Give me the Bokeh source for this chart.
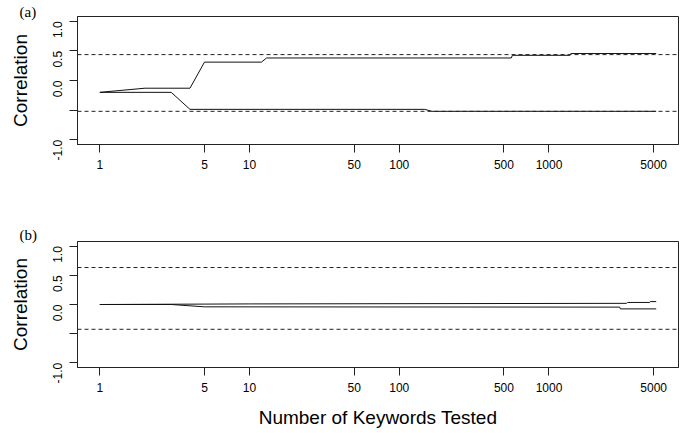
import math
from bokeh.plotting import figure
from bokeh.models import Span, Title, FixedTicker, CustomJSTickFormatter, Range1d, NumeralTickFormatter
from bokeh.layouts import column
from bokeh.embed import file_html
from bokeh.resources import INLINE

# ---- data ----
x_ticks = [1, 5, 10, 50, 100, 500, 1000, 5000]
y_ticks = [-1.0, -0.5, 0.0, 0.5, 1.0]

# panel (a)
a_upper_x = [1, 2, 4, 5, 12, 13, 560, 570, 1380, 1400, 5200]
a_upper_y = [-0.2, -0.13, -0.13, 0.31, 0.31, 0.38, 0.38, 0.425, 0.425, 0.455, 0.455]
a_lower_x = [1, 3, 4, 148, 165, 5200]
a_lower_y = [-0.2, -0.2, -0.487, -0.487, -0.52, -0.52]
a_thresh = [0.437, -0.52]

# panel (b)
b_upper_x = [1, 10, 3300, 3350, 4700, 4750, 5200]
b_upper_y = [0.0, 0.01, 0.02, 0.035, 0.035, 0.05, 0.05]
b_lower_x = [1, 3, 5, 2970, 3000, 5200]
b_lower_y = [0.0, 0.0, -0.04, -0.045, -0.075, -0.075]
b_thresh = [0.634, -0.425]

FONT = "Liberation Sans"
SERIF = "Liberation Serif"

XMIN, XMAX = 10 ** -0.149, 10 ** 3.865
YMIN, YMAX = -1.08, 1.08


def make_panel(tag, tag_standoff, ux, uy, lx, ly, thresh, top, frame_h, bottom, xlabel):
    p = figure(width=681, height=top + frame_h + bottom, x_axis_type="log",
               x_range=Range1d(XMIN, XMAX), y_range=Range1d(YMIN, YMAX),
               output_backend="svg", toolbar_location=None,
               min_border_left=77, min_border_right=3,
               min_border_top=top, min_border_bottom=bottom,
               frame_width=601, frame_height=frame_h)
    p.grid.visible = False
    p.background_fill_color = "white"
    p.border_fill_color = "white"
    p.outline_line_color = "#222222"
    p.outline_line_width = 1

    for v in thresh:
        p.add_layout(Span(location=v, dimension="width", line_color="#222222",
                          line_width=1, line_dash="4 3"))
    p.line(ux, uy, line_color="#111111", line_width=1)
    p.line(lx, ly, line_color="#111111", line_width=1)

    xa = p.xaxis[0]
    xa.ticker = FixedTicker(ticks=x_ticks)
    xa.formatter = NumeralTickFormatter(format="0")
    xa.minor_tick_line_color = None
    xa.major_tick_out = 8
    xa.major_tick_in = 0
    xa.major_label_standoff = 7
    xa.major_label_text_font = FONT
    xa.major_label_text_font_size = "12px"
    xa.major_label_text_color = "black"
    xa.axis_line_color = "#222222"
    xa.major_tick_line_color = "#222222"
    if xlabel:
        xa.axis_label = xlabel
        xa.axis_label_text_font = FONT
        xa.axis_label_text_font_size = "19px"
        xa.axis_label_text_font_style = "normal"
        xa.axis_label_text_color = "black"
        xa.axis_label_standoff = 12

    ya = p.yaxis[0]
    ya.ticker = FixedTicker(ticks=y_ticks)
    ya.formatter = CustomJSTickFormatter(
        code="return Math.abs(tick + 0.5) < 1e-9 ? '' : tick.toFixed(1);")
    ya.minor_tick_line_color = None
    ya.major_tick_out = 8
    ya.major_tick_in = 0
    ya.major_label_standoff = 12
    ya.major_label_orientation = math.pi / 2
    ya.major_label_text_font = FONT
    ya.major_label_text_font_size = "12px"
    ya.major_label_text_color = "black"
    ya.axis_line_color = "#222222"
    ya.major_tick_line_color = "#222222"
    ya.axis_label = "Correlation"
    ya.axis_label_text_font = FONT
    ya.axis_label_text_font_size = "19px"
    ya.axis_label_text_font_style = "normal"
    ya.axis_label_text_color = "black"
    ya.axis_label_standoff = 15

    p.add_layout(Title(text=tag, align="left", offset=-58, standoff=tag_standoff,
                       text_font=SERIF, text_font_size="15px", text_font_style="normal",
                       text_color="black"), "above")
    return p


pa = make_panel("(a)", -6, a_upper_x, a_upper_y, a_lower_x, a_lower_y, a_thresh,
                16, 128, 70, None)
pb = make_panel("(b)", -2, b_upper_x, b_upper_y, b_lower_x, b_lower_y, b_thresh,
                27, 126, 60, "Number of Keywords Tested")

layout = column(pa, pb, spacing=0)
open("out.html", "w").write(file_html(layout, INLINE))
